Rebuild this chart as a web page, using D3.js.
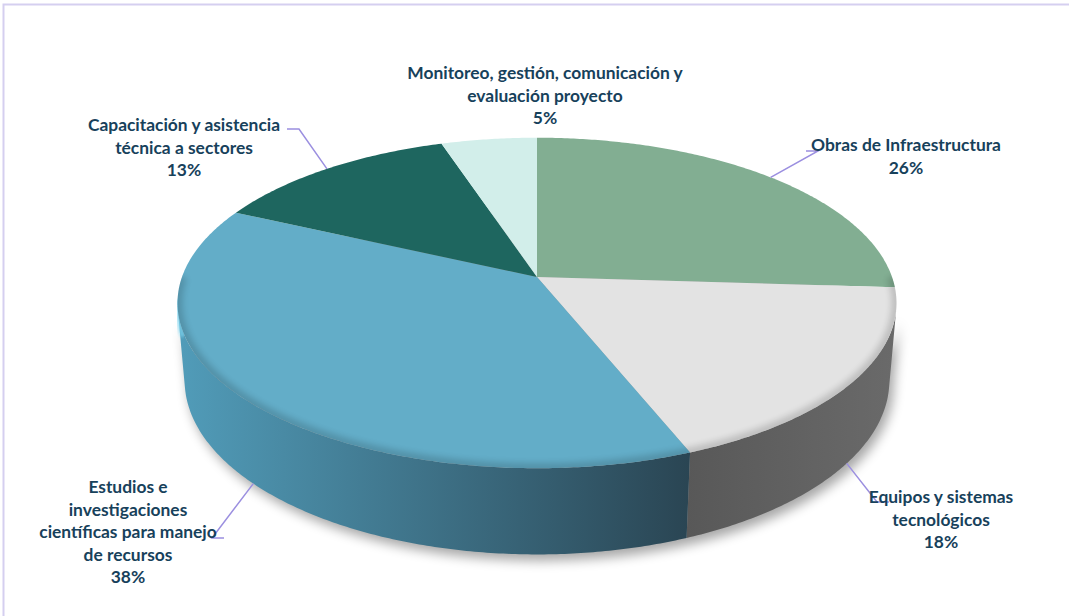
<!DOCTYPE html>
<html>
<head>
<meta charset="utf-8">
<style>
  body { margin: 0; background: #fff; }
  svg { display: block; }
  text { font-family: Lato, "Open Sans", sans-serif; font-weight: 700; }
</style>
</head>
<body>
<script src="https://cdn.jsdelivr.net/npm/d3@7/dist/d3.min.js"></script>
<script>
// data
const categories = [
  'Obras de Infraestructura',
  'Equipos y sistemas\ntecnológicos',
  'Estudios e\ninvestigaciones\ncientíficas para manejo\nde recursos',
  'Capacitación y asistencia\ntécnica a sectores',
  'Monitoreo, gestión, comunicación y\nevaluación proyecto'
];
const values = [26, 18, 38, 13, 5];
const pctLabels = ['26%', '18%', '38%', '13%', '5%'];

// styling
const topColors = ['#82ae92', '#e3e3e3', '#63adc8', '#1e665f', '#d2eeea'];
const sideColors = [['#5f8a6f', '#6f9a7f'], ['#585858', '#6a6a6a'], ['#519cb9', '#2a4553'], ['#174e49', '#1e605a'], ['#a8c8c4', '#b8d8d4']];

// label layout: text centre x, first line y, leader end point (null = no leader)
const labelLayout = [
  { x: 906, y: 145, lx: 806, ly: 151, dir: -1 },
  { x: 941, y: 497, lx: 889, ly: 502, dir: 1 },
  { x: 128, y: 487, lx: 224, ly: 538, dir: 1 },
  { x: 184, y: 125, lx: 287, ly: 129, dir: -1 },
  { x: 545, y: 73, lx: null }
];

const W = 1069, H = 616;
const cx = 537, cy = 277;
const F = 2013, D = 5.67, phi = 27 * Math.PI / 180, thick = 0.247;

const svg = d3.select('body').append('svg')
  .attr('width', W).attr('height', H);

const defs = svg.append('defs');
defs.append('filter').attr('id', 'blur6')
  .attr('x', '-20%').attr('y', '-20%').attr('width', '140%').attr('height', '140%')
  .append('feGaussianBlur').attr('stdDeviation', 6);
defs.append('filter').attr('id', 'blur3')
  .append('feGaussianBlur').attr('stdDeviation', 3);
defs.append('filter').attr('id', 'blur1')
  .append('feGaussianBlur').attr('stdDeviation', 1.5);

// border
svg.append('path')
  .attr('d', `M3.5,${H} L3.5,4.5 L${W},4.5`)
  .attr('fill', 'none').attr('stroke', '#d5cff0').attr('stroke-width', 2);

// perspective projection of a point on the pie (theta from 12 o'clock, clockwise)
function proj(theta, r, h) {
  const X = r * Math.sin(theta), Z = -r * Math.cos(theta);
  const depth = D - h * Math.sin(phi) - Z * Math.cos(phi);
  return [cx + F * X / depth, cy - F * (h * Math.cos(phi) - Z * Math.sin(phi)) / depth];
}
function arcPts(a0, a1, h) {
  const n = Math.max(2, Math.ceil(Math.abs(a1 - a0) / 0.01));
  return d3.range(n + 1).map(i => proj(a0 + (a1 - a0) * i / n, 1, h));
}

const pie = d3.pie().sort(null).value(d => d);
const arcs = pie(values);
const line = d3.line();

const thLim = Math.acos(-1 / (D * Math.cos(phi)));

// shadow
const shadow = svg.append('g').attr('filter', 'url(#blur6)').attr('opacity', 0.35)
  .attr('transform', 'translate(4,6)');
shadow.append('path')
  .attr('d', line(arcPts(0, 2 * Math.PI, -thick)) + 'Z')
  .attr('fill', '#000');
shadow.append('path')
  .attr('d', line(arcPts(thLim, 2 * Math.PI - thLim, 0).concat(arcPts(2 * Math.PI - thLim, thLim, -thick))) + 'Z')
  .attr('fill', '#000');

// sides
arcs.forEach((a, i) => {
  const s = Math.max(a.startAngle, thLim), e = Math.min(a.endAngle, 2 * Math.PI - thLim);
  if (e <= s) return;
  const pts = arcPts(s, e, 0).concat(arcPts(e, s, -thick));
  const ext = d3.extent(pts, p => p[0]);
  const gid = 'side' + i;
  const g = defs.append('linearGradient').attr('id', gid)
    .attr('gradientUnits', 'userSpaceOnUse')
    .attr('x1', ext[0]).attr('x2', ext[1]).attr('y1', 0).attr('y2', 0);
  g.append('stop').attr('offset', 0).attr('stop-color', sideColors[i][0]);
  g.append('stop').attr('offset', 1).attr('stop-color', sideColors[i][1]);
  svg.append('path').attr('d', line(pts) + 'Z').attr('fill', `url(#${gid})`);
});

// bevel highlight on the left rim
svg.append('path')
  .attr('d', line(arcPts(2 * Math.PI - thLim - 0.12, 2 * Math.PI - thLim + 0.1, -0.02)))
  .attr('fill', 'none').attr('stroke', '#7fd6f0').attr('stroke-width', 5)
  .attr('opacity', 0.7).attr('filter', 'url(#blur1)');

// tops
const topPath = line(arcPts(0, 2 * Math.PI, 0)) + 'Z';
defs.append('clipPath').attr('id', 'topClip').append('path').attr('d', topPath);
arcs.forEach((a, i) => {
  const pts = [proj(0, 0, 0)].concat(arcPts(a.startAngle, a.endAngle, 0));
  svg.append('path').attr('d', line(pts) + 'Z').attr('fill', topColors[i]);
});

// bevel shading along the front rim
svg.append('g').attr('clip-path', 'url(#topClip)')
  .append('path')
  .attr('d', line(arcPts(thLim - 0.2, 2 * Math.PI - thLim + 0.2, 0)))
  .attr('fill', 'none').attr('stroke', '#000').attr('stroke-width', 10)
  .attr('opacity', 0.16).attr('filter', 'url(#blur3)');

// leader lines and labels
arcs.forEach((a, i) => {
  const L = labelLayout[i];
  if (L.lx !== null) {
    const mid = (a.startAngle + a.endAngle) / 2;
    const front = -Math.cos(mid) > 0.2;
    const anchor = proj(mid, 1, front ? -thick : 0);
    const pts = [anchor, [L.lx - L.dir * 12, L.ly], [L.lx, L.ly]];
    svg.append('path').attr('d', line(pts))
      .attr('fill', 'none').attr('stroke', '#9b8fe0').attr('stroke-width', 1.5);
  }
  const lines = categories[i].split('\n').concat([pctLabels[i]]);
  const t = svg.append('text')
    .attr('x', L.x).attr('y', L.y)
    .attr('text-anchor', 'middle')
    .attr('fill', '#17415b')
    .attr('font-size', 17.4);
  lines.forEach((s, k) => {
    t.append('tspan').attr('x', L.x).attr('y', L.y + k * 22.6)
      .attr('dy', '0.35em').text(s);
  });
});
</script>
</body>
</html>
